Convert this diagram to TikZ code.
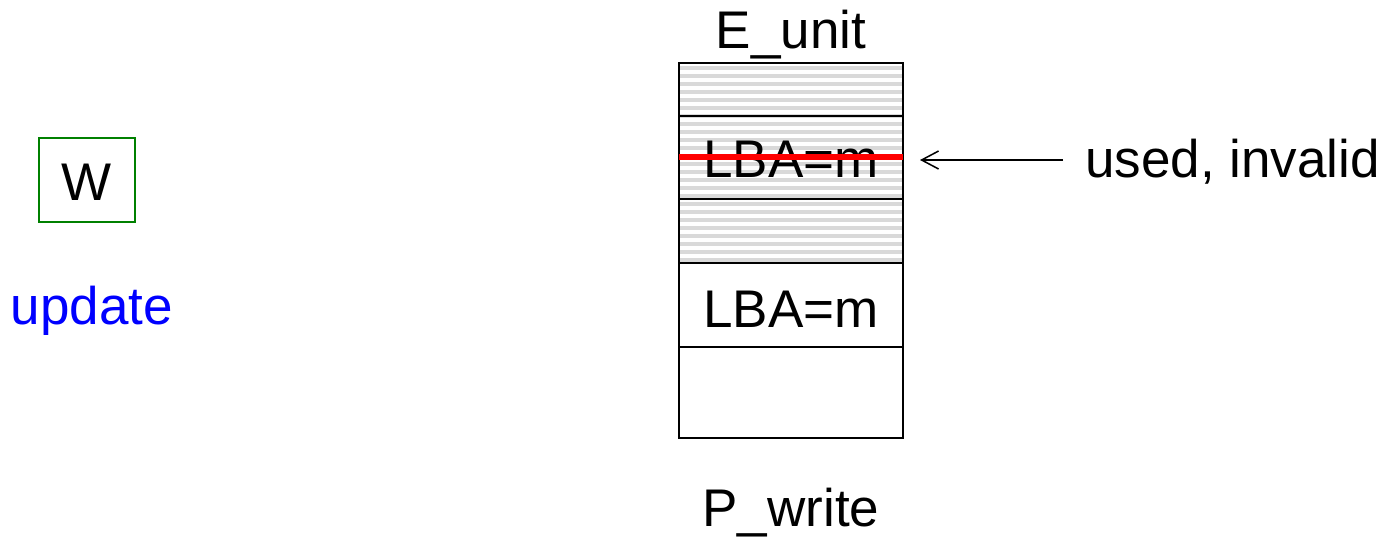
\documentclass[tikz,border=0pt]{standalone}
\usepackage{fontspec}
\setmainfont{Liberation Sans}
\usetikzlibrary{arrows.meta}
\tikzset{
  label/.style = {font=\fontsize{26.5}{30}\selectfont, inner sep=0pt, anchor=base},
  cell/.style = {draw=black, line width=1.2pt},
  stripe/.style = {draw=black!15, line width=2pt},
  strike/.style = {draw=red, line width=2.6pt}
}

\begin{document}
\begin{tikzpicture}[x=0.5pt,y=-0.5pt]
  \useasboundingbox (0,0) rectangle (1383,537);
  % striped (used) part of the unit
  \foreach \y in {68,76,...,260}
    \draw[stripe] (680,\y) -- (902,\y);
  % the unit and its cells
  \draw[cell] (679,63) rectangle (903,438);
  \foreach \y in {116,199,263,347}
    \draw[cell] (679,\y) -- (903,\y);
  \node[label] (eunit) at (791,48) {E\_unit};
  \node[label] (old) at (791,177) {LBA=m};
  \node[label] (new) at (791,327) {LBA=m};
  \node[label] (pwrite) at (791,526) {P\_write};
  \draw[strike] (679,157) -- (903,157);
  % note on the old copy
  \node[label, anchor=base west] (used) at (1085,177) {used, invalid};
  \coordinate (tip) at (920,160);
  \draw[line width=0.75pt, shorten <=11pt, -{Straight Barb[length=8.5pt,width=9pt]}] (used.west |- tip) -- (tip);
  % the write request
  \draw[draw=green!50!black, line width=0.75pt] (39,138) rectangle (135,222);
  \node[label] (w) at (87,200) {W};
  \node[label, text=blue] (update) at (92,324) {update};
\end{tikzpicture}
\end{document}
